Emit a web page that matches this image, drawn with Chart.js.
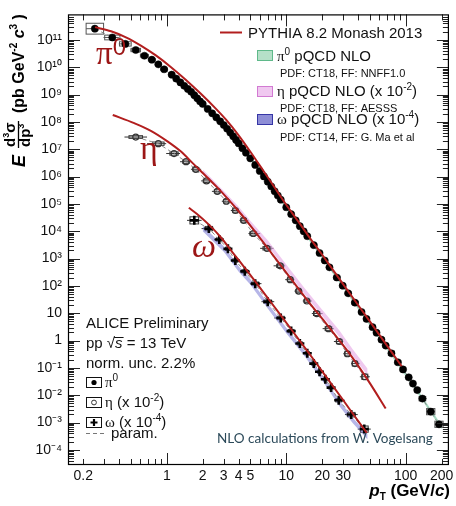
<!DOCTYPE html>
<html>
<head>
<meta charset="utf-8">
<script src="https://cdn.jsdelivr.net/npm/chart.js@4.4.1/dist/chart.umd.min.js"></script>
<style>
  html, body { margin: 0; padding: 0; background: #fff; }
</style>
</head>
<body>
<canvas id="chart" width="456" height="506"></canvas>
<script>
// pi0 spectrum (as plotted)
const pi0Pt = [0.25, 0.35, 0.45, 0.55, 0.65, 0.75, 0.85, 0.95, 1.1, 1.2, 1.3, 1.4, 1.5, 1.6, 1.7, 1.8, 1.9, 2.0,
  2.2, 2.4, 2.6, 2.8, 3.0, 3.2, 3.4, 3.6, 3.8, 4.0, 4.3, 4.6, 5.0, 5.5, 6.0, 6.5, 7.0, 7.5, 8.0, 8.5, 9.0,
  10, 11, 12, 13, 14, 15, 17, 19, 21, 23, 26.5, 29.7, 33, 37.6, 42.7, 47, 52.8, 57, 62.7, 68,
  76, 86, 95, 106, 115, 125, 138, 162, 190]
const pi0Val = [2.58e11, 1.23e11, 7.17e10, 4.28e10, 2.64e10, 1.89e10, 1.28e10, 8.45e9, 5.35e9, 3.84e9, 2.79e9, 2.1e9,
  1.61e9, 1.27e9, 9.55e8, 7.31e8, 5.65e8, 4.55e8, 3.0e8, 2.07e8, 1.46e8, 1.05e8, 7.67e7, 5.64e7, 4.07e7, 2.97e7,
  2.2e7, 1.63e7, 1.09e7, 7.46e6, 4.64e6, 2.68e6, 1.6e6, 1.01e6, 6.52e5, 4.34e5, 2.91e5, 2.03e5, 1.43e5,
  7.55e4, 4.22e4, 2.5e4, 1.53e4, 9.9e3, 6.59e3, 3.11e3, 1.6e3, 851, 479, 203, 102, 53.7, 24.4, 11.1, 6.22, 3.09,
  1.94, 1.08, 0.658, 0.341, 0.161, 0.0879, 0.0451, 0.0267, 0.0154, 0.00753, 0.00251, 8.65e-4]
const pi0Sys = [0.58, 0.22, 0.2, 0.15, 0.12, 0.1, 0.1, 0.1, 0.1, 0.1, 0.1, 0.1, 0.1, 0.1, 0.1, 0.1, 0.1, 0.1,
  0.1, 0.1, 0.1, 0.1, 0.1, 0.1, 0.1, 0.1, 0.1, 0.1, 0.1, 0.1, 0.1, 0.1, 0.1, 0.1, 0.1, 0.1, 0.1, 0.1, 0.1,
  0.1, 0.1, 0.1, 0.1, 0.1, 0.1, 0.1, 0.1, 0.1, 0.1, 0.12, 0.12, 0.12, 0.12, 0.12, 0.12, 0.14, 0.14, 0.14, 0.15,
  0.2, 0.15, 0.15, 0.15, 0.15, 0.15, 0.2, 0.3, 0.3]

// eta spectrum, x 10^-2
const etaPt = [0.55, 0.85, 1.15, 1.45, 1.75, 2.15, 2.65, 3.15, 3.75, 4.4, 5.3, 6.9, 8.9, 10.8, 12.7, 14.9,
  18, 22.6, 27.8, 32.5, 37.6, 45.5]
const etaVal = [2.8e7, 1.6e7, 6.98e6, 3.5e6, 1.85e6, 6.96e5, 2.88e5, 1.25e5, 5.74e4, 2.5e4, 8.26e3, 2.37e3,
  543, 169, 64.5, 28.1, 9.75, 2.73, 0.924, 0.33, 0.1435, 0.0474]
const etaSys = [0.12, 0.15, 0.15, 0.15, 0.15, 0.15, 0.15, 0.15, 0.15, 0.15, 0.15, 0.15, 0.15, 0.15, 0.15,
  0.15, 0.18, 0.18, 0.2, 0.2, 0.22, 0.25]

// omega spectrum, x 10^-4
const omegaPt = [1.7, 2.25, 2.75, 3.25, 3.75, 4.5, 5.5, 7, 9, 11, 13, 15, 17, 19, 21.25, 23.75, 27.5, 35, 45]
const omegaVal = [2.5e4, 1.25e4, 5.0e3, 2.27e3, 851, 341, 121, 26.5, 6.71, 2.22, 0.783, 0.344, 0.1435, 0.072,
  0.0385, 0.019, 6.55e-3, 1.96e-3, 5.76e-4]
const omegaSys = [0.35, 0.2, 0.15, 0.15, 0.15, 0.15, 0.15, 0.15, 0.15, 0.15, 0.15, 0.15, 0.15, 0.15, 0.15,
  0.15, 0.15, 0.2, 0.3]

// PYTHIA 8.2 Monash 2013
const pythiaPi0Pt = [0.251, 0.3415, 0.455, 0.607, 0.81, 1.08, 1.44, 1.92, 2.56, 3.16, 3.98, 5.01, 6.31, 7.94,
  10, 12.6, 15.8, 20, 31.6, 50.1, 92.6]
const pythiaPi0Val = [2.95e11, 2.07e11, 1.25e11, 6.22e10, 2.71e10, 1.03e10, 3.5e9, 1.09e9, 3.13e8, 1.16e8, 3.31e7,
  8.13e6, 1.86e6, 4.17e5, 9.33e4, 2.29e4, 5.62e3, 1.38e3, 83.2, 5.01, 0.115]
const pythiaEtaPt = [0.353, 0.534, 0.736, 1.013, 1.3, 1.689, 2.645, 3.16, 3.98, 5.01, 6.9, 7.94, 10, 12.6, 15.8,
  20, 25.1, 31.6, 39.8, 50.1, 68]
const pythiaEtaVal = [1.79e8, 9.0e7, 4.73e7, 1.95e7, 8.57e6, 2.8e6, 4.02e5, 1.74e5, 5.5e4, 1.62e4, 2.62e3, 1.16e3,
  305, 82, 22.6, 6.37, 1.79, 0.494, 0.124, 0.0278, 3.26e-3]
const pythiaOmegaPt = [1.53, 1.78, 2.24, 2.82, 3.55, 4.47, 5.62, 7.08, 8.91, 11.2, 14.1, 17.8, 22.4, 28.2, 35.5, 47.3]
const pythiaOmegaVal = [7.24e4, 4.37e4, 1.78e4, 6.17e3, 1.7e3, 479, 129, 33.9, 8.91, 2.34, 0.603, 0.151,
  0.038, 9.55e-3, 2.34e-3, 4.17e-4]

// pQCD NLO bands (lower / upper edge)
const pi0NloPt = [1.5, 2, 3, 5, 8, 12, 20, 30, 50, 80, 120, 200]
const pi0NloLow = [1.37e9, 3.87e8, 6.47e7, 3.95e6, 2.48e5, 2.12e4, 993, 81.8, 3.49, 0.198, 0.0158, 5.75e-4]
const pi0NloHigh = [1.89e9, 5.35e8, 8.93e7, 5.46e6, 3.42e5, 2.93e4, 1.37e3, 113, 4.82, 0.273, 0.0219, 7.94e-4]
const etaNloPt = [2, 3, 4, 5, 7, 10, 14, 20, 28, 36, 48]
const etaNloLow = [1.29e6, 2.04e5, 5.37e4, 1.58e4, 2.95e3, 372, 55, 7.94, 1.32, 0.275, 0.0525]
const etaNloHigh = [1.82e6, 2.95e5, 7.94e4, 2.4e4, 4.68e3, 603, 91.2, 13.5, 2.29, 0.479, 0.0933]
const omegaNloPt = [2, 3, 4, 5, 7, 10, 14, 20, 28, 36, 48]
const omegaNloLow = [1e4, 1.78e3, 331, 112, 14.8, 1.86, 0.295, 0.0347, 3.89e-3, 9.55e-4, 2.4e-4]
const omegaNloHigh = [1.58e4, 2.82e3, 525, 178, 23.4, 2.95, 0.468, 0.055, 6.17e-3, 1.51e-3, 3.8e-4]

// tick labels
const xTickLabels = [0.2, 1, 2, 3, 4, 5, 10, 20, 30, 100, 200]
const yTickLabels = [1e-4, 1e-3, 1e-2, 1e-1, 1, 10, 1e2, 1e3, 1e4, 1e5, 1e6, 1e7, 1e8, 1e9, 1e10, 1e11]

const SANS = "'Liberation Sans', Arial, Helvetica, sans-serif"
const SERIF = "'Liberation Serif', 'Times New Roman', serif"
const RED = "#b21e1e"
const LABEL_RED = "#9c1616"

const xy = (xs, ys) => xs.map((x, i) => ({x, y: ys[i]}))
const mant = v => v / Math.pow(10, Math.floor(Math.log10(v) + 1e-9))
const near = (a, b) => Math.abs(a / b - 1) < 1e-6

const SUP = {"-": "\u207B", "0": "\u2070", "1": "\u00B9", "2": "\u00B2", "3": "\u00B3", "4": "\u2074",
  "5": "\u2075", "6": "\u2076", "7": "\u2077", "8": "\u2078", "9": "\u2079"}
function powLabel(v) {
  const e = Math.round(Math.log10(v))
  if (e === 0) return "1"
  if (e === 1) return "10"
  return "10" + String(e).split("").map(c => SUP[c]).join("")
}

function band(xs, lo, hi, color) {
  return [
    {data: xy(xs, lo), showLine: true, borderWidth: 0, pointRadius: 0, fill: false, order: 10},
    {data: xy(xs, hi), showLine: true, borderWidth: 0, pointRadius: 0, fill: "-1", backgroundColor: color, order: 10}
  ]
}
function param(xs, ys) {
  return {data: xy(xs, ys), showLine: true, borderColor: "#8a8a8a", borderWidth: 1, borderDash: [4, 3],
    pointRadius: 0, order: 8}
}
function pythia(xs, ys) {
  return {data: xy(xs, ys), showLine: true, borderColor: RED, borderWidth: 2, pointRadius: 0,
    cubicInterpolationMode: "monotone", order: 1}
}

const datasets = [
  ...band(pi0NloPt, pi0NloLow, pi0NloHigh, "rgba(110,195,155,0.6)"),
  ...band(etaNloPt, etaNloLow, etaNloHigh, "rgba(228,165,228,0.6)"),
  ...band(omegaNloPt, omegaNloLow, omegaNloHigh, "rgba(110,110,210,0.5)"),
  param(pi0Pt, pi0Val),
  param(etaPt, etaVal),
  param(omegaPt, omegaVal),
  {data: xy(pi0Pt, pi0Val), pointStyle: "circle", pointRadius: 3.6, pointBackgroundColor: "#000",
    pointBorderColor: "#000", pointBorderWidth: 0.5, order: 5, sys: pi0Sys, boxFrac: 1, boxColor: "#555"},
  {data: xy(etaPt, etaVal), pointStyle: "circle", pointRadius: 3, pointBackgroundColor: "rgba(255,255,255,0)",
    pointBorderColor: "#333", pointBorderWidth: 1.2, order: 5, sys: etaSys, boxFrac: 0.6, boxColor: "#333"},
  {data: xy(omegaPt, omegaVal), pointStyle: "cross", pointRadius: 4.5, pointBorderColor: "#000",
    pointBorderWidth: 2.6, order: 5, sys: omegaSys, boxFrac: 0.6, boxColor: "#333"},
  pythia(pythiaPi0Pt, pythiaPi0Val),
  pythia(pythiaEtaPt, pythiaEtaVal),
  pythia(pythiaOmegaPt, pythiaOmegaVal)
]

// systematic boxes and bin-width bars, placed with the chart scales
const sysBoxes = {
  id: "sysBoxes",
  beforeDatasetsDraw(chart) {
    const {ctx, chartArea: a, scales: {x, y}} = chart
    ctx.save()
    ctx.beginPath()
    ctx.rect(a.left, a.top, a.width, a.height)
    ctx.clip()
    chart.data.datasets.forEach(ds => {
      if (!ds.sys) return
      const pts = ds.data
      ctx.strokeStyle = ds.boxColor
      ctx.lineWidth = 1
      pts.forEach((p, i) => {
        const prev = i > 0 ? pts[i - 1].x : p.x * p.x / pts[i + 1].x
        const next = i < pts.length - 1 ? pts[i + 1].x : p.x * p.x / pts[i - 1].x
        const xl = x.getPixelForValue(Math.sqrt(prev * p.x))
        const xh = x.getPixelForValue(Math.sqrt(p.x * next))
        const xc = x.getPixelForValue(p.x)
        const yc = y.getPixelForValue(p.y)
        const hw = (xh - xl) / 2 * ds.boxFrac
        const yt = y.getPixelForValue(p.y * (1 + ds.sys[i]))
        const yb = y.getPixelForValue(p.y / (1 + ds.sys[i]))
        ctx.strokeRect(xc - hw, yt, 2 * hw, yb - yt)
        ctx.beginPath()
        ctx.moveTo(xl, yc)
        ctx.lineTo(xh, yc)
        ctx.stroke()
      })
    })
    ctx.restore()
  }
}

// frame with inward ticks on all four sides
const axisFrame = {
  id: "axisFrame",
  afterDatasetsDraw(chart) {
    const {ctx, chartArea: a, scales: {x, y}} = chart
    ctx.save()
    ctx.strokeStyle = "#222"
    ctx.lineWidth = 1
    ctx.beginPath()
    x.ticks.forEach(t => {
      const m = mant(t.value)
      if (Math.abs(m - 1.5) < 0.01) return
      const p = Math.round(x.getPixelForValue(t.value)) + 0.5
      if (p < a.left + 2 || p > a.right - 2) return
      const len = Math.abs(m - 1) < 0.01 ? 12 : 6
      ctx.moveTo(p, a.bottom); ctx.lineTo(p, a.bottom - len)
      ctx.moveTo(p, a.top); ctx.lineTo(p, a.top + len)
    })
    y.ticks.forEach(t => {
      const m = mant(t.value)
      if (Math.abs(m - 1.5) < 0.01) return
      const p = Math.round(y.getPixelForValue(t.value)) + 0.5
      if (p < a.top + 2 || p > a.bottom - 2) return
      const len = Math.abs(m - 1) < 0.01 ? 12 : 6
      ctx.moveTo(a.left, p); ctx.lineTo(a.left + len, p)
      ctx.moveTo(a.right, p); ctx.lineTo(a.right - len, p)
    })
    ctx.stroke()
    ctx.strokeStyle = "#000"
    ctx.lineWidth = 1.2
    ctx.strokeRect(a.left + 0.5, a.top + 0.5, a.width - 1, a.height - 1)
    ctx.restore()
  }
}

function rich(ctx, x, y, parts, align) {
  let w = 0
  parts.forEach(p => { ctx.font = p.f; p.w = ctx.measureText(p.t).width; w += p.w })
  let cx = align === "right" ? x - w : x
  parts.forEach(p => { ctx.font = p.f; ctx.fillText(p.t, cx, y + (p.dy || 0)); cx += p.w })
  return w
}

const texts = {
  id: "texts",
  afterDraw(chart) {
    const ctx = chart.ctx
    ctx.save()
    ctx.textBaseline = "alphabetic"
    ctx.textAlign = "left"

    // big particle labels
    ctx.fillStyle = LABEL_RED
    rich(ctx, 96, 64, [{t: "\u03C0", f: "33px " + SERIF}, {t: "0", f: "24px " + SANS, dy: -9}])
    ctx.font = "34px " + SERIF
    ctx.fillText("\u03B7", 140, 159)
    ctx.font = "italic 34px " + SERIF
    ctx.fillText("\u03C9", 192, 257)

    // top-right legend
    ctx.strokeStyle = RED
    ctx.lineWidth = 2
    ctx.beginPath(); ctx.moveTo(220, 32.5); ctx.lineTo(242, 32.5); ctx.stroke()
    ctx.fillStyle = "#111"
    ctx.font = "15px " + SANS
    ctx.fillText("PYTHIA 8.2 Monash 2013", 248, 37.5)
    const sw = [[50, "#b5e0c8", "#5fb98a"], [86, "#f0c8f0", "#d27ad2"], [114, "#8e8ed6", "#3636a6"]]
    sw.forEach(([yy, fill, edge]) => {
      ctx.fillStyle = fill
      ctx.fillRect(257, yy, 16, 11)
      ctx.strokeStyle = edge
      ctx.lineWidth = 1
      ctx.strokeRect(257.5, yy + 0.5, 15, 10)
    })
    ctx.fillStyle = "#111"
    const f15 = "15px " + SANS, s10 = "10px " + SANS, g15 = "15px " + SERIF
    rich(ctx, 277, 61, [{t: "\u03C0", f: g15}, {t: "0", f: s10, dy: -6}, {t: " pQCD NLO", f: f15}])
    rich(ctx, 277, 96, [{t: "\u03B7", f: g15}, {t: " pQCD NLO (x 10", f: f15}, {t: "-2", f: s10, dy: -6}, {t: ")", f: f15}])
    rich(ctx, 277, 124, [{t: "\u03C9", f: g15}, {t: " pQCD NLO (x 10", f: f15}, {t: "-4", f: s10, dy: -6}, {t: ")", f: f15}])
    ctx.font = "11px " + SANS
    ctx.fillText("PDF: CT18, FF: NNFF1.0", 280, 77)
    ctx.fillText("PDF: CT18, FF: AESSS", 280, 112)
    ctx.fillText("PDF: CT14, FF: G. Ma et al", 280, 141)

    // lower-left block
    ctx.font = f15
    ctx.fillText("ALICE Preliminary", 86, 328)
    const w1 = rich(ctx, 86, 348, [{t: "pp ", f: f15}, {t: "\u221A", f: f15}])
    const sx = 86 + w1
    const w2 = rich(ctx, sx, 348, [{t: "s", f: "italic 15px " + SANS}])
    ctx.strokeStyle = "#111"; ctx.lineWidth = 1
    ctx.beginPath(); ctx.moveTo(sx - 1, 337.5); ctx.lineTo(sx + w2 + 1, 337.5); ctx.stroke()
    rich(ctx, sx + w2, 348, [{t: " = 13 TeV", f: f15}])
    ctx.fillText("norm. unc. 2.2%", 86, 368)

    const rows = [377, 397, 417]
    rows.forEach(yy => { ctx.strokeStyle = "#111"; ctx.lineWidth = 1; ctx.strokeRect(86.5, yy + 0.5, 15, 10) })
    ctx.fillStyle = "#000"
    ctx.beginPath(); ctx.arc(94, 382.5, 2.6, 0, 2 * Math.PI); ctx.fill()
    ctx.strokeStyle = "#333"; ctx.lineWidth = 1
    ctx.beginPath(); ctx.arc(94, 402.5, 2.4, 0, 2 * Math.PI); ctx.stroke()
    ctx.strokeStyle = "#000"; ctx.lineWidth = 2.2
    ctx.beginPath(); ctx.moveTo(90.5, 422.5); ctx.lineTo(97.5, 422.5); ctx.moveTo(94, 419); ctx.lineTo(94, 426); ctx.stroke()
    ctx.fillStyle = "#111"
    rich(ctx, 105, 387, [{t: "\u03C0", f: g15}, {t: "0", f: s10, dy: -6}])
    rich(ctx, 105, 407, [{t: "\u03B7", f: g15}, {t: " (x 10", f: f15}, {t: "-2", f: s10, dy: -6}, {t: ")", f: f15}])
    rich(ctx, 105, 427, [{t: "\u03C9", f: g15}, {t: " (x 10", f: f15}, {t: "-4", f: s10, dy: -6}, {t: ")", f: f15}])
    ctx.strokeStyle = "#777"; ctx.lineWidth = 1; ctx.setLineDash([4, 3])
    ctx.beginPath(); ctx.moveTo(86, 433.5); ctx.lineTo(106, 433.5); ctx.stroke()
    ctx.setLineDash([])
    ctx.font = f15
    ctx.fillText("param.", 111, 438)

    // credit line, fitted to its width in the reference
    ctx.fillStyle = "#2c4a5a"
    ctx.font = "13px Lato, " + SANS
    const cw = ctx.measureText("NLO calculations from W. Vogelsang").width
    ctx.font = (13 * 216 / cw).toFixed(2) + "px Lato, " + SANS
    ctx.fillText("NLO calculations from W. Vogelsang", 217, 443)

    // x axis title
    ctx.fillStyle = "#000"
    const b17 = "bold 17px " + SANS, bi17 = "bold italic 17px " + SANS
    rich(ctx, 450, 496, [{t: "p", f: bi17}, {t: "T", f: "bold 10px " + SANS, dy: 4}, {t: " (GeV/", f: b17},
      {t: "c", f: bi17}, {t: ")", f: b17}], "right")

    // y axis title, rotated
    ctx.save()
    ctx.rotate(-Math.PI / 2)
    ctx.font = "bold italic 18px " + SANS
    ctx.fillText("E", -167, 25)
    const b15 = "bold 15px " + SANS, b9 = "bold 9px " + SANS
    rich(ctx, -147, 15, [{t: "d", f: b15}, {t: "3", f: b9, dy: -6}, {t: "\u03C3", f: b15}])
    rich(ctx, -147, 30, [{t: "dp", f: b15}, {t: "3", f: b9, dy: -6}])
    ctx.strokeStyle = "#000"; ctx.lineWidth = 1.3
    ctx.beginPath(); ctx.moveTo(-148, 18.5); ctx.lineTo(-121, 18.5); ctx.stroke()
    const b16 = "bold 16px " + SANS
    rich(ctx, -113, 24, [{t: "(pb GeV", f: b16}, {t: "-2", f: "bold 10px " + SANS, dy: -7}, {t: " ", f: b16},
      {t: "c", f: "bold italic 16px " + SANS}, {t: "3", f: "bold 10px " + SANS, dy: -7}, {t: " )", f: b16}])
    ctx.restore()

    ctx.restore()
  }
}

Chart.defaults.font.family = SANS
Chart.defaults.color = "#111"

const chart = new Chart("chart", {
  type: "scatter",
  data: {datasets},
  options: {
    responsive: false,
    animation: false,
    devicePixelRatio: 1,
    layout: {padding: {top: 7, right: 7, left: 0, bottom: 0}},
    plugins: {legend: {display: false}, tooltip: {enabled: false}},
    scales: {
      x: {
        // min just under 0.15 so the tick generator keeps the 0.2 tick
        type: "logarithmic", min: 0.149, max: 230,
        grid: {display: false, drawTicks: false}, border: {display: false},
        ticks: {autoSkip: false, maxRotation: 0, padding: 3, font: {size: 14},
          callback: v => xTickLabels.some(l => near(v, l)) ? String(xTickLabels.find(l => near(v, l))) : ""},
        afterFit: s => { s.height = 41 }
      },
      y: {
        type: "logarithmic", min: 2.8e-5, max: 8.6e11,
        grid: {display: false, drawTicks: false}, border: {display: false},
        ticks: {autoSkip: false, padding: 6, font: {size: 14},
          callback: v => yTickLabels.some(l => near(v, l)) ? powLabel(v) : ""},
        afterFit: s => { s.width = 68 }
      }
    }
  },
  plugins: [sysBoxes, axisFrame, texts]
})
</script>
</body>
</html>
